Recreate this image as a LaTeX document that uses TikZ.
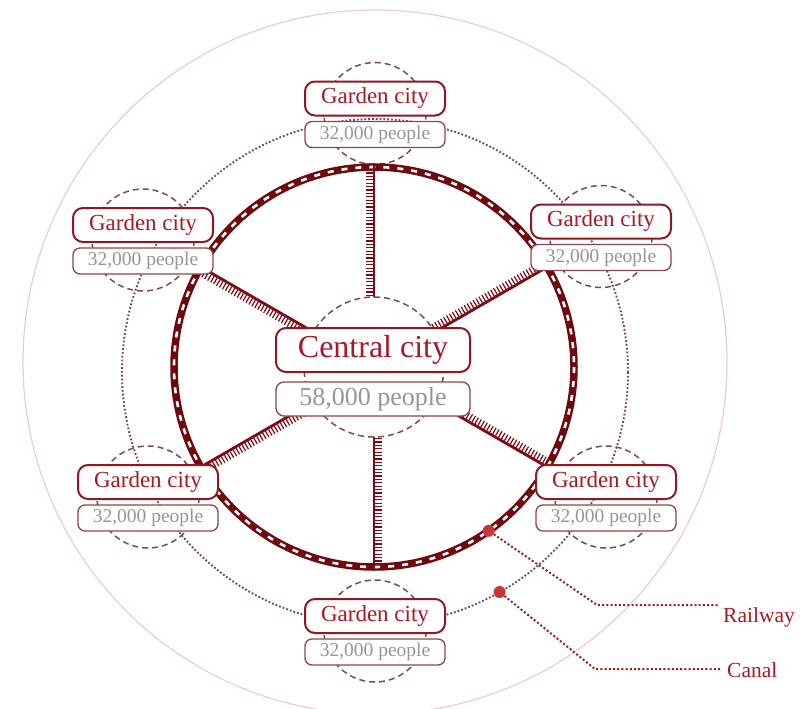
\documentclass[tikz,border=0pt]{standalone}
\usepackage{fontspec}
\setmainfont{Liberation Serif}
\definecolor{ringred}{RGB}{110,8,12}
\definecolor{spokered}{RGB}{125,10,20}
\definecolor{boxred}{RGB}{140,25,35}
\definecolor{textred}{RGB}{165,25,40}
\definecolor{popborder}{RGB}{140,70,75}
\definecolor{poptext}{RGB}{150,150,150}
\definecolor{dashgray}{RGB}{125,75,80}
\definecolor{canalgray}{RGB}{125,70,85}
\definecolor{outerpink}{RGB}{232,205,210}
\definecolor{dotred}{RGB}{200,55,55}
\definecolor{leaderred}{RGB}{150,30,35}
\begin{document}
\begin{tikzpicture}[x=1pt,y=-1pt,
  outerring/.style={draw=outerpink,line width=1.2},
  canalring/.style={draw=canalgray,line width=1.9,dash pattern=on 1.8 off 2},
  zone/.style={draw=dashgray,line width=1.5,dash pattern=on 6 off 4},
  spoke/.style={draw=spokered,line width=2.8},
  spoketicks/.style={draw=spokered,line width=7,dash pattern=on 1.2 off 2.2},
  railbed/.style={draw=ringred,line width=7.5},
  railties/.style={draw=white,line width=2.6,dash pattern=on 6 off 8},
  gname/.style={draw=boxred,line width=2,fill=white,rounded corners=10,
    minimum width=140,minimum height=34,inner sep=0,text=textred,
    font=\fontsize{23}{26}\selectfont},
  gpop/.style={draw=popborder,line width=1.3,fill=white,rounded corners=7,
    minimum width=140,minimum height=26,inner sep=0,text=poptext,
    font=\fontsize{19.5}{22}\selectfont},
  cname/.style={gname,minimum width=194,minimum height=44,
    font=\fontsize{32}{35}\selectfont},
  cpop/.style={gpop,minimum width=194,minimum height=34,rounded corners=8,
    font=\fontsize{26}{29}\selectfont},
  marker/.style={circle,fill=dotred,minimum size=12,inner sep=0},
  leader/.style={draw=leaderred,line width=2,dash pattern=on 2 off 2.2},
  legend/.style={text=textred,font=\fontsize{21.5}{24}\selectfont,inner sep=0}
]
\useasboundingbox (0,0) rectangle (800,709);

% centres of the city, the railway ring and the canal
\coordinate (C) at (374,367);
\coordinate (K) at (375,372);

% outer agricultural belt
\draw[outerring] (375,362) circle (352);

% canal linking the garden cities
\draw[canalring] (K) circle (253);

% garden city zones
\foreach \n/\x/\y in {gt/375/118.5,gur/601/241.5,gul/143/245,
                      gll/148/502,glr/606/502,gb/375/636}{
  \draw[zone] ({\x},{\y-5}) circle (51);
}

% central city zone
\draw[zone] (C) circle (70);

% circular railway
\draw[railbed] (C) circle (200);
\draw[railties] (C) circle (200);

% radial railway lines
\foreach \a in {30,90,150,210,270,330}{
  \begin{scope}[shift={(C)},rotate=\a]
    \draw[spoketicks] (71,-4.9) -- (200,-4.9);
    \draw[spoke] (70,0) -- (204,0);
  \end{scope}
}

% central city
\node[cname] (cc-name) at (373,350) {Central city};
\node[cpop]  (cc-pop)  at (373,399) {58,000 people};

% garden cities
\foreach \n/\x/\y in {gt/375/118.5,gur/601/241.5,gul/143/245,
                      gll/148/502,glr/606/502,gb/375/636}{
  \node[gname] (\n-name) at ({\x},{\y-20}) {Garden city};
  \node[gpop]  (\n-pop)  at ({\x},{\y+16}) {32,000 people};
}

% legend
\node[marker] (rail-dot)  at (488.7,530.8) {};
\node[marker] (canal-dot) at (499.6,592) {};
\coordinate (rail-bend)  at (597,605);
\coordinate (rail-end)   at (719,605);
\coordinate (canal-bend) at (595,669);
\coordinate (canal-end)  at (722,669);
\draw[leader] (rail-dot) -- (rail-bend) -- (rail-end);
\draw[leader] (canal-dot) -- (canal-bend) -- (canal-end);
\node[legend,anchor=base west] (rail-label)  at (723,622) {Railway};
\node[legend,anchor=base west] (canal-label) at (727,677) {Canal};
\end{tikzpicture}
\end{document}
